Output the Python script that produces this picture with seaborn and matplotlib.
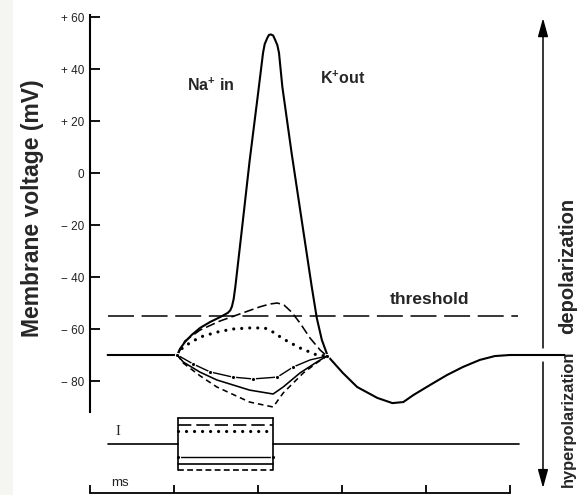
import matplotlib
matplotlib.use("Agg")
import matplotlib.pyplot as plt
from matplotlib.patches import Rectangle
import seaborn as sns

sns.set_theme(style="white")
plt.rcParams['font.family'] = ['Liberation Sans', 'DejaVu Sans']
plt.rcParams['mathtext.fontset'] = 'custom'
plt.rcParams['mathtext.rm'] = 'Liberation Sans:bold'
plt.rcParams['mathtext.bf'] = 'Liberation Sans:bold'
plt.rcParams['mathtext.it'] = 'Liberation Sans:bold'

# ---------------- data ----------------
yticks = [-80, -60, -40, -20, 0, 20, 40, 60]
ytick_labels = ['\u2212 80', '\u2212 60', '\u2212 40', '\u2212 20', '0', '+ 20', '+ 40', '+ 60']
ms_ticks = [0, 1, 2, 3, 4, 5]
threshold_mV = -55
threshold_t = [0.21, 5.1]

# action potential (largest depolarizing stimulus), time in ms, voltage in mV
spike_t = [0.21, 1.04, 1.07, 1.13, 1.21, 1.31, 1.43, 1.55, 1.64, 1.67, 1.69, 1.71, 1.73,
           1.81, 1.90, 2.00, 2.06, 2.08, 2.11, 2.13, 2.15, 2.18, 2.20, 2.23, 2.25,
           2.29, 2.40, 2.52, 2.64, 2.70, 2.76, 2.83, 3.01, 3.18, 3.42, 3.60, 3.73, 3.85,
           4.05, 4.25, 4.44, 4.64, 4.82, 5.00, 5.65]
spike_v = [-70, -70, -67.7, -65.0, -62.3, -59.6, -57.3, -55.4, -53.8, -52.8, -51.3, -48.5, -43.8,
           -21.2, 4.6, 30.4, 46.2, 49.6, 51.9, 53.1, 53.3, 52.9, 51.5, 49.2, 46.2,
           33.1, 7.7, -18.1, -43.8, -55.8, -64.2, -70.4, -76.9, -82.3, -86.5, -88.5, -88.1, -85.4,
           -81.5, -77.7, -74.6, -71.9, -70.4, -70, -70]

# subthreshold depolarization (dashed)
dep2_t = [1.04, 1.13, 1.31, 1.55, 1.82, 2.02, 2.14, 2.23, 2.31, 2.40, 2.50, 2.62, 2.74, 2.82]
dep2_v = [-70, -64.6, -60.4, -56.9, -53.8, -51.5, -50.4, -50.0, -50.8, -53.5, -57.7, -63.5, -68.1, -70.4]

# subthreshold depolarization (dotted)
dep1_t = [1.04, 1.11, 1.31, 1.51, 1.70, 1.90, 2.08, 2.18, 2.30, 2.50, 2.70, 2.82]
dep1_v = [-70, -66.9, -63.1, -61.2, -60.0, -59.6, -59.6, -61.2, -63.8, -67.3, -70.0, -70.4]

# hyperpolarization (dash-dot with dots)
hyp1_t = [1.04, 1.23, 1.43, 1.70, 1.94, 2.23, 2.42, 2.62, 2.82]
hyp1_v = [-70, -73.5, -76.5, -78.5, -79.2, -78.5, -74.6, -71.9, -70.4]

# hyperpolarization (solid)
hyp2_t = [1.04, 1.11, 1.31, 1.51, 1.90, 2.18, 2.30, 2.50, 2.70, 2.82]
hyp2_v = [-70, -72.7, -76.6, -79.6, -83.5, -85.0, -82.3, -76.9, -72.7, -70.4]

# hyperpolarization (short dashes)
hyp3_t = [1.04, 1.11, 1.31, 1.51, 1.90, 2.18, 2.30, 2.54, 2.70, 2.82]
hyp3_v = [-70, -73.1, -78.0, -82.3, -88.1, -90.0, -84.6, -76.9, -73.0, -70.4]

# injected current pulses (arbitrary units)
stim_t = [0.21, 1.05, 1.05, 2.18, 2.18, 5.11]
stim_levels = [4, 3, 2, -2, -3, -4]

# ---------------- layout ----------------
W, H = 579, 495
fig = plt.figure(figsize=(W / 100, H / 100), dpi=100)
fig.patch.set_facecolor('white')
fig.patches.append(Rectangle((0, 0), 13 / W, 1, transform=fig.transFigure,
                             facecolor='#f5f5f1', edgecolor='none', zorder=0))


def fx(px):
    return px / W


def fy(py):
    return 1 - py / H


x0, pxms = 90, 84.0
xmax = (W - x0) / pxms
axw = fx(W) - fx(x0)

ax = fig.add_axes([fx(x0), fy(412), axw, fy(15) - fy(412)])
ax.set_facecolor('none')
ax.set_xlim(0, xmax)
ax.set_ylim(60 - (412 - 17) / 2.6, 60 - (15 - 17) / 2.6)

lw = 1.15
sns.lineplot(x=threshold_t, y=[threshold_mV] * 2, ax=ax, color='black', lw=1.1,
             linestyle=(0, (17, 5)), sort=False, estimator=None)
sns.lineplot(x=spike_t, y=spike_v, ax=ax, color='black', lw=1.5, sort=False, estimator=None)
sns.lineplot(x=dep2_t, y=dep2_v, ax=ax, color='black', lw=lw, linestyle=(0, (6, 2.6)),
             sort=False, estimator=None)
sns.lineplot(x=dep1_t, y=dep1_v, ax=ax, color='black', lw=2.3, linestyle=(0, (0.01, 2.5)),
             dash_capstyle='round', sort=False, estimator=None)
sns.lineplot(x=hyp1_t, y=hyp1_v, ax=ax, color='black', lw=1.0, marker='o', markersize=3,
             markevery=0.03, sort=False, estimator=None)
sns.lineplot(x=hyp2_t, y=hyp2_v, ax=ax, color='black', lw=lw, sort=False, estimator=None)
sns.lineplot(x=hyp3_t, y=hyp3_v, ax=ax, color='black', lw=lw, linestyle=(0, (3.5, 2.5)),
             sort=False, estimator=None)

for s in ['top', 'right', 'bottom']:
    ax.spines[s].set_visible(False)
ax.spines['left'].set_linewidth(1.5)
ax.spines['left'].set_color('black')
ax.set_xticks([])
ax.set_yticks(yticks)
ax.set_yticklabels(ytick_labels)
ax.tick_params(axis='y', direction='in', length=7, width=1.3, colors='black',
               labelcolor='#222222', labelsize=8.5, pad=4, left=True)
ax.set_xlabel('')
ax.set_ylabel('')

# text labels
ax.text(1.44, 33.8, r'Na$^{+}$ in', ha='center', va='center', fontsize=11.5, fontweight='bold')
ax.text(3.01, 36.5, r'K$^{+}$out', ha='center', va='center', fontsize=11.5, fontweight='bold')
ax.text(4.04, -48.8, 'threshold', ha='center', va='center', fontsize=12.5, fontweight='bold')
ax.text(5.69, -35.8, 'depolarization', rotation=90, ha='center', va='center',
        fontsize=14.5, fontweight='bold', clip_on=False)
ax.text(5.69, -68.5, 'hyperpolarization', rotation=90, ha='center', va='top',
        fontsize=11.8, fontweight='bold', clip_on=False)

fig.text(fx(33), fy(208), 'Membrane voltage (mV)', rotation=90, ha='center', va='center',
         fontsize=16.5, fontweight='bold')

# right-hand arrows
t_arrow = (543 - x0) / pxms
ax.annotate('', xy=(t_arrow, 59.6), xytext=(t_arrow, -67.3), annotation_clip=False,
            arrowprops=dict(arrowstyle='-|>,head_length=0.8,head_width=0.22', lw=1.1,
                            color='black', mutation_scale=14, shrinkA=0, shrinkB=0))
ax.annotate('', xy=(t_arrow, -121.2), xytext=(t_arrow, -72.7), annotation_clip=False,
            arrowprops=dict(arrowstyle='-|>,head_length=0.8,head_width=0.22', lw=1.1,
                            color='black', mutation_scale=14, shrinkA=0, shrinkB=0))

# ---------------- stimulus current panel ----------------
axi = fig.add_axes([fx(x0), fy(480), axw, fy(410) - fy(480)])
axi.set_facecolor('none')
axi.set_xlim(0, xmax)
axi.set_ylim((444 - 480) / 6.5, (444 - 410) / 6.5)
stim_styles = [dict(lw=1.2),
               dict(lw=1.2, linestyle=(0, (8, 3))),
               dict(lw=2.3, linestyle=(0, (0.01, 2.5)), dash_capstyle='round'),
               dict(lw=1.0, marker='o', markersize=3, markevery=0.046),
               dict(lw=1.2),
               dict(lw=1.2, linestyle=(0, (3.5, 2)))]
for lev, st in zip(stim_levels, stim_styles):
    t_in = stim_t[2:4]
    sns.lineplot(x=t_in, y=[lev] * 2, ax=axi, color='black', sort=False, estimator=None, **st)
# pulse outline and baseline
big = stim_levels[0]
low = stim_levels[-1]
sns.lineplot(x=stim_t[:3], y=[0, 0, big], ax=axi, color='black', lw=1.2, sort=False, estimator=None)
sns.lineplot(x=stim_t[3:], y=[big, 0, 0], ax=axi, color='black', lw=1.2, sort=False, estimator=None)
sns.lineplot(x=[stim_t[1], stim_t[2]], y=[0, low], ax=axi, color='black', lw=1.2, sort=False, estimator=None)
sns.lineplot(x=[stim_t[3], stim_t[4]], y=[0, low], ax=axi, color='black', lw=1.2, sort=False, estimator=None)
axi.axis('off')
axi.text(0.33, 1.85, 'I', ha='center', va='center', fontsize=10.5, family='Liberation Serif')

# ---------------- time scale ----------------
axt = fig.add_axes([fx(x0), fy(493), axw, fy(478) - fy(493)])
axt.set_facecolor('none')
axt.set_xlim(0, xmax)
axt.set_ylim(0, 1)
for s in ['top', 'right', 'left']:
    axt.spines[s].set_visible(False)
axt.spines['bottom'].set_bounds(0, 5)
axt.spines['bottom'].set_linewidth(1.3)
axt.spines['bottom'].set_color('black')
axt.set_xticks(ms_ticks)
axt.set_xticklabels([])
axt.set_yticks([])
axt.tick_params(axis='x', direction='in', length=5.5, width=1.3, colors='black', bottom=True)
axt.text(0.36, 0.7, 'ms', ha='center', va='center', fontsize=9.5, color='#222222')

fig.savefig('out.png', dpi=100)
